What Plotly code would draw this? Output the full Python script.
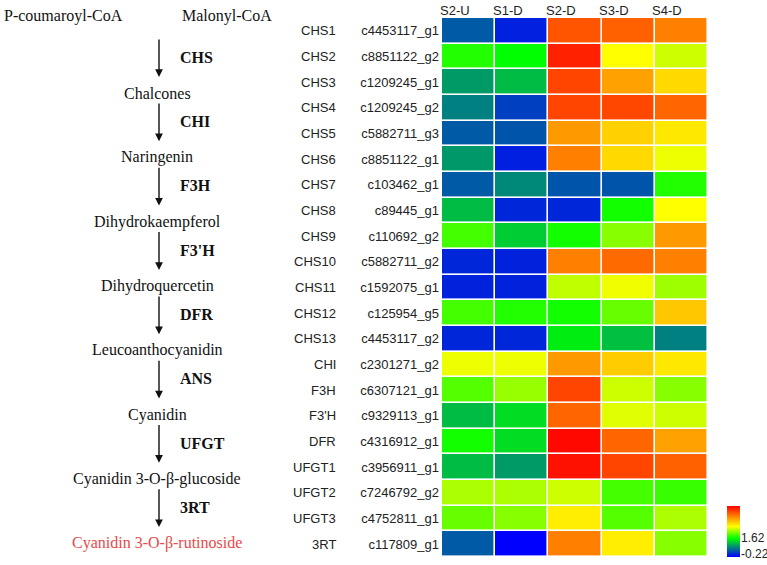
import plotly.graph_objects as go

# ---------------- data ----------------
samples = ["S2-U", "S1-D", "S2-D", "S3-D", "S4-D"]
genes = ["CHS1", "CHS2", "CHS3", "CHS4", "CHS5", "CHS6", "CHS7", "CHS8", "CHS9",
         "CHS10", "CHS11", "CHS12", "CHS13", "CHI", "F3H", "F3'H", "DFR",
         "UFGT1", "UFGT2", "UFGT3", "3RT"]
gene_ids = ["c4453117_g1", "c8851122_g2", "c1209245_g1", "c1209245_g2", "c5882711_g3",
            "c8851122_g1", "c103462_g1", "c89445_g1", "c110692_g2", "c5882711_g2",
            "c1592075_g1", "c125954_g5", "c4453117_g2", "c2301271_g2", "c6307121_g1",
            "c9329113_g1", "c4316912_g1", "c3956911_g1", "c7246792_g2", "c4752811_g1",
            "c117809_g1"]
expr_S2U = [0.41, 1.77, 0.87, 0.68, 0.41, 0.85, 0.41, 1.12, 1.93, 0.05, 0.02,
            1.93, 0.05, 2.70, 2.00, 1.12, 1.70, 1.12, 2.40, 2.09, 0.41]
expr_S1D = [0.01, 1.62, 1.12, 0.23, 0.38, 0.00, 0.74, 0.05, 1.24, 0.02, 0.02,
            1.77, 0.05, 2.70, 2.31, 1.37, 1.37, 0.87, 2.40, 2.24, -0.22]
expr_S2D = [4.12, 4.52, 4.24, 4.24, 3.58, 3.78, 0.38, 0.05, 1.70, 3.78, 2.49,
            1.70, 1.49, 3.58, 4.24, 3.98, 4.72, 4.65, 2.55, 2.91, 3.78]
expr_S3D = [4.03, 2.78, 3.52, 4.22, 3.14, 3.08, 0.38, 1.70, 2.24, 3.95, 2.71,
            2.09, 1.15, 3.18, 2.55, 2.64, 3.98, 4.24, 1.93, 2.00, 2.91]
expr_S4D = [3.78, 2.55, 3.08, 3.98, 2.96, 2.70, 1.77, 2.78, 3.58, 3.78, 2.34,
            3.22, 0.68, 2.96, 2.24, 2.55, 3.52, 4.03, 1.87, 2.40, 2.24]
scale_ticks = [-0.22, 1.62]
scale_max = 4.78

metabolites = ["Chalcones", "Naringenin", "Dihydrokaempferol", "Dihydroquercetin",
               "Leucoanthocyanidin", "Cyanidin", "Cyanidin 3-O-β-glucoside",
               "Cyanidin 3-O-β-rutinoside"]
substrates = ["P-coumaroyl-CoA", "Malonyl-CoA"]
enzymes = ["CHS", "CHI", "F3H", "F3'H", "DFR", "ANS", "UFGT", "3RT"]

# ---------------- figure ----------------
W, H = 767, 565


def px(x):
    return x / W


def py(y):
    return (H - y) / H


columns = [expr_S2U, expr_S1D, expr_S2D, expr_S3D, expr_S4D]
z = [[col[i] for col in columns] for i in range(len(genes))]
rows = list(range(len(genes)))

colorscale = [
    [0.0, "#0000ff"],
    [0.18, "#008080"],
    [0.368, "#00ff00"],
    [0.6, "#ffff00"],
    [1.0, "#ff0000"],
]

CB_X, CB_TOP, CB_BOT, CB_W = 727, 506, 557, 13

fig = go.Figure()
fig.add_trace(go.Heatmap(
    z=z, x=list(range(len(samples))), y=rows,
    zmin=scale_ticks[0], zmax=scale_max,
    colorscale=colorscale, xgap=1.6, ygap=1.6,
    hoverinfo="skip",
    colorbar=dict(
        x=px(CB_X), xanchor="left", y=py(CB_BOT), yanchor="bottom",
        thickness=CB_W, thicknessmode="pixels",
        len=CB_BOT - CB_TOP, lenmode="pixels",
        outlinewidth=0, ticks="", showticklabels=False,
        xpad=0, ypad=0,
    ),
))

fig.update_xaxes(domain=[px(442), px(708)], showticklabels=False, showgrid=False,
                 zeroline=False, range=[-0.5, len(samples) - 0.5])
fig.update_yaxes(domain=[py(557), py(18)], showgrid=False, zeroline=False,
                 range=[len(genes) - 0.5, -0.5], tickmode="array", tickvals=rows,
                 ticktext=gene_ids, ticks="", ticklabelstandoff=2,
                 tickfont=dict(family="Arial, Liberation Sans", size=13, color="#222"))

ann = []
sans = dict(family="Arial, Liberation Sans", size=13, color="#222")
for i, g in enumerate(genes):
    ann.append(dict(x=px(338), xref="paper", y=i, yref="y", text=g, showarrow=False,
                    xanchor="right", yanchor="middle", font=sans))
for j, s in enumerate(samples):
    ann.append(dict(x=j, xref="x", y=py(10), yref="paper", text=s, showarrow=False,
                    xanchor="center", yanchor="middle", xshift=-14, font=sans))

# colorbar tick labels, placed along the colour scale
for v in scale_ticks:
    frac = (v - scale_ticks[0]) / (scale_max - scale_ticks[0])
    ylab = CB_BOT - frac * (CB_BOT - CB_TOP)
    ann.append(dict(x=px(CB_X + CB_W), xref="paper", y=py(min(ylab, CB_BOT - 3)),
                    yref="paper", text=f"{v:.2f}", showarrow=False, xanchor="left",
                    yanchor="middle", xshift=-1,
                    font=dict(family="Arial, Liberation Sans", size=12, color="#222")))

serif = dict(family="Liberation Serif, Times New Roman", size=16, color="#111")
red = dict(family="Liberation Serif, Times New Roman", size=16, color="#e8484a")

ann.append(dict(x=px(63), xref="paper", y=py(16), yref="paper", text=substrates[0],
                showarrow=False, xanchor="center", yanchor="middle", font=serif))
ann.append(dict(x=px(227), xref="paper", y=py(16), yref="paper", text=substrates[1],
                showarrow=False, xanchor="center", yanchor="middle", font=serif))

arrow_x = 159
step = 64.3
prev_y = 16
for k, m in enumerate(metabolites):
    my = 93 + step * k
    last = k == len(metabolites) - 1
    ann.append(dict(x=px(157), xref="paper", y=py(my), yref="paper", text=m,
                    showarrow=False, xanchor="center", yanchor="middle",
                    font=red if last else serif))
    top = prev_y + (22 if k == 0 else 9)
    bot = my - 16
    ann.append(dict(x=px(arrow_x), xref="paper", y=py(bot), yref="paper", text="",
                    showarrow=True, ax=0, ay=-(bot - top), axref="pixel", ayref="pixel",
                    arrowhead=2, arrowsize=1.1, arrowwidth=1.4, arrowcolor="#111",
                    standoff=0))
    ann.append(dict(x=px(178), xref="paper", y=py((top + bot) / 2), yref="paper",
                    text="<b>" + enzymes[k] + "</b>", showarrow=False,
                    xanchor="left", yanchor="middle", font=serif))
    prev_y = my

fig.update_layout(
    width=W, height=H, margin=dict(l=0, r=0, t=0, b=0),
    paper_bgcolor="white", plot_bgcolor="white",
    annotations=ann, showlegend=False,
)

# remove the browser's default page margin so the 767x565 figure fills the window
fig.write_html("out.html",
               config={"displayModeBar": False},
               post_script="document.body.style.margin='0';"
                           "document.body.style.overflow='hidden';")
